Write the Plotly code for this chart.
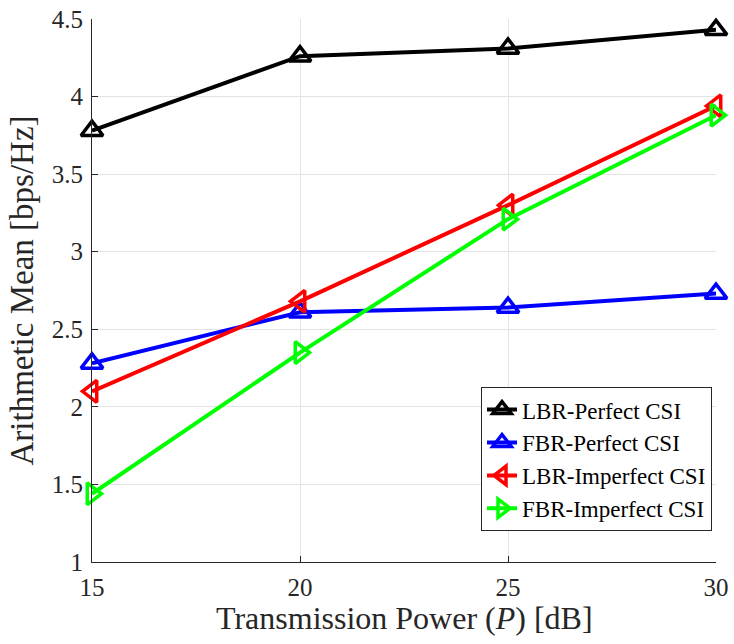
import plotly.graph_objects as go

power_db = [15, 20, 25, 30]
lbr_perfect = [3.78, 4.26, 4.31, 4.43]
fbr_perfect = [2.28, 2.61, 2.64, 2.73]
lbr_imperfect = [2.10, 2.68, 3.30, 3.94]
fbr_imperfect = [1.44, 2.35, 3.21, 3.88]

series = [
    ("LBR-Perfect CSI", lbr_perfect, "#000000", "triangle-up-open"),
    ("FBR-Perfect CSI", fbr_perfect, "#0000FF", "triangle-up-open"),
    ("LBR-Imperfect CSI", lbr_imperfect, "#FF0000", "triangle-left-open"),
    ("FBR-Imperfect CSI", fbr_imperfect, "#00FF00", "triangle-right-open"),
]

fig = go.Figure()
for name, vals, color, symbol in series:
    fig.add_trace(go.Scatter(
        x=power_db, y=vals, name=name, mode="lines+markers",
        line=dict(color=color, width=4),
        marker=dict(symbol=symbol, size=19, color=color,
                    line=dict(color=color, width=3.5)),
        cliponaxis=False,
    ))

font_family = "Liberation Serif, Times New Roman, serif"
axis_common = dict(
    showgrid=True, gridcolor="#e3e3e3", gridwidth=1,
    showline=True, linecolor="#262626", linewidth=1,
    ticks="inside", ticklen=6, tickcolor="#262626",
    tickfont=dict(family=font_family, size=25, color="#262626"),
    zeroline=False, mirror=False, automargin=False,
)

fig.update_layout(
    width=734, height=644,
    margin=dict(l=92, r=18, t=19, b=82),
    paper_bgcolor="white", plot_bgcolor="white",
    font=dict(family=font_family, color="#262626"),
    xaxis=dict(
        range=[15, 30], tickvals=[15, 20, 25, 30],
        ticklabelstandoff=3,
        **axis_common,
    ),
    yaxis=dict(
        range=[1, 4.5], tickvals=[1, 1.5, 2, 2.5, 3, 3.5, 4, 4.5],
        ticktext=["1", "1.5", "2", "2.5", "3", "3.5", "4", "4.5"],
        ticklabelstandoff=3,
        title=dict(text="Arithmetic Mean [bps/Hz]",
                   font=dict(family=font_family, size=33, color="#262626"),
                   standoff=8),
        **axis_common,
    ),
    legend=dict(
        x=0.9936, y=0.322, xanchor="right", yanchor="top",
        bgcolor="white", bordercolor="#262626", borderwidth=1,
        font=dict(family=font_family, size=23, color="#000000"),
        tracegroupgap=0, itemwidth=30,
    ),
    showlegend=True,
)

# x-axis title placed as an annotation just under the tick labels
fig.add_annotation(
    text="Transmission Power (<i>P</i>) [dB]",
    xref="paper", yref="paper", x=0.5, y=-0.103,
    xanchor="center", yanchor="middle", showarrow=False,
    font=dict(family=font_family, size=32, color="#262626"),
)

fig.write_html("out.html")
